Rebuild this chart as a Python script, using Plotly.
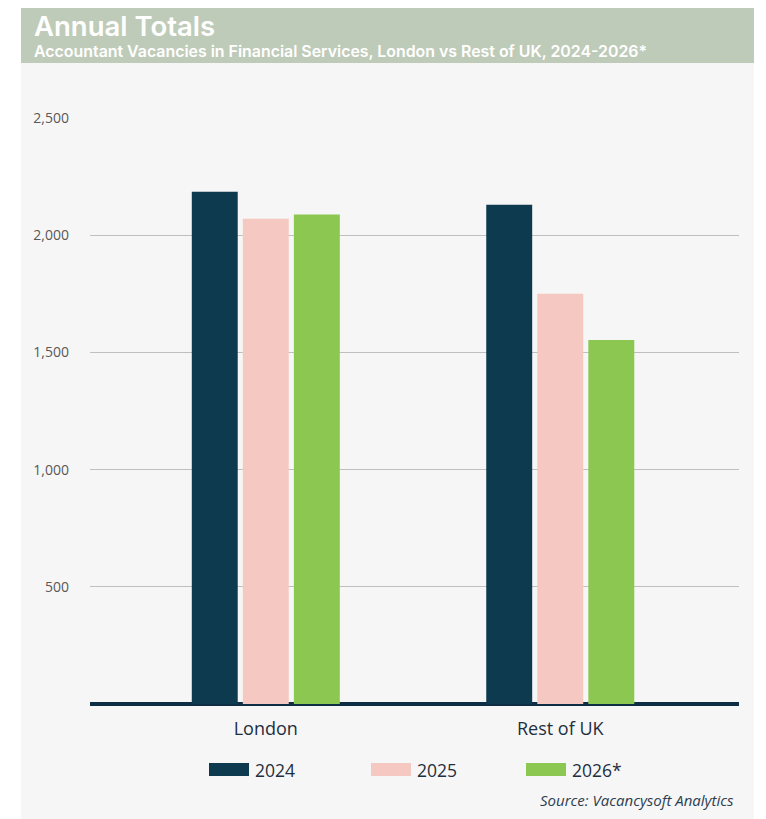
import plotly.graph_objects as go

categories = ["London", "Rest of UK"]
series_names = ["2024", "2025", "2026*"]
values_2024 = [2185, 2130]
values_2025 = [2070, 1750]
values_2026 = [2088, 1553]
series_values = [values_2024, values_2025, values_2026]
colors = ["#0d3a4f", "#f5c8c2", "#8bc751"]
y_ticks = [500, 1000, 1500, 2000, 2500]
y_tick_labels = ["500", "1,000", "1,500", "2,000", "2,500"]
title_text = "Annual Totals"
subtitle_text = "Accountant Vacancies in Financial Services, London vs Rest of UK, 2024-2026*"
source_text = "Source: Vacancysoft Analytics"

# The page body has an 8px margin; the figure is sized so it fits the window.
OFF = 8
W, H = 766 - OFF, 819 - OFF
# plot area in reference (window) pixels
PL, PR, PT, PB = 90, 739, 118, 704
PW, PH = PR - PL, PB - PT

fig = go.Figure()
for name, vals, col in zip(series_names, series_values, colors):
    fig.add_trace(go.Bar(x=categories, y=vals, name=name, marker=dict(color=col, line=dict(width=0)),
                         showlegend=False, hoverinfo="x+y+name"))


def px(x):
    return (x - PL) / PW


def py(y):
    return 1 - (y - PT) / PH


shapes = [
    # panel background
    dict(type="rect", xref="paper", yref="paper", x0=px(21), x1=px(754), y0=py(830), y1=py(63),
         fillcolor="#f6f6f6", line=dict(width=0), layer="below"),
    # header band
    dict(type="rect", xref="paper", yref="paper", x0=px(21), x1=px(754), y0=py(63), y1=py(2),
         fillcolor="#bfcbb9", line=dict(width=0), layer="below"),
]
annotations = [
    dict(text=f"<span style='font-size:27.5px'>{title_text}</span><br>{subtitle_text}",
         xref="paper", yref="paper", x=px(33), y=py(8.5), xanchor="left", yanchor="top", align="left",
         borderpad=0, showarrow=False,
         font=dict(family="Inter", size=15.9, color="white", weight=600)),
    dict(text=f"<i>{source_text}</i>", xref="paper", yref="paper", x=px(736), y=py(800),
         xanchor="right", yanchor="middle", showarrow=False,
         font=dict(family="Open Sans", size=15, color="#2c3e50")),
]

# custom legend with wide keys
legend_keys = [209, 371, 526]
for name, col, kx in zip(series_names, colors, legend_keys):
    shapes.append(dict(type="rect", xref="paper", yref="paper", x0=px(kx), x1=px(kx + 40),
                       y0=py(776), y1=py(763), fillcolor=col, line=dict(width=0)))
    annotations.append(dict(text=name, xref="paper", yref="paper", x=px(kx + 44), y=py(769.5),
                            xanchor="left", yanchor="middle", showarrow=False,
                            font=dict(family="Open Sans", size=17.5, color="#1e2f40")))

fig.update_layout(
    width=W, height=H,
    paper_bgcolor="white", plot_bgcolor="rgba(0,0,0,0)",
    margin=dict(l=PL - OFF, r=W - (PR - OFF), t=PT - OFF, b=H - (PB - OFF), pad=0),
    barmode="group", bargap=0.48, bargroupgap=0.1,
    shapes=shapes, annotations=annotations,
    showlegend=False,
    font=dict(family="Open Sans"),
    xaxis=dict(range=[-0.597, 1.607], showgrid=False, ticks="", showline=False,
               tickfont=dict(family="Open Sans", size=18, color="#1e2f40"), ticklabelstandoff=12),
    yaxis=dict(range=[0, 2500], tickvals=y_ticks, ticktext=y_tick_labels, showgrid=True,
               gridcolor="#bfbfbf", gridwidth=1.3, zeroline=True, zerolinecolor="#0d2e45", zerolinewidth=3.5,
               showline=False, ticks="", tickfont=dict(family="Open Sans", size=14, color="#595959"),
               ticklabelstandoff=20),
)
fig.write_html("out.html")
